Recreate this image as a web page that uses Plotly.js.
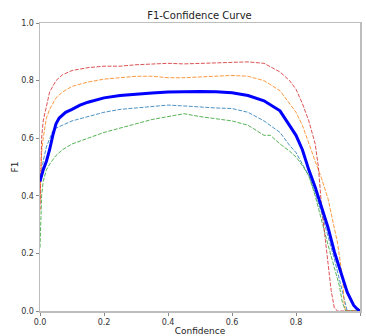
<!DOCTYPE html>
<html>
<head>
<meta charset="utf-8">
<script src="https://cdn.plot.ly/plotly-3.0.1.min.js"></script>
<style>html,body{margin:0;padding:0;background:#fff;}#chart{width:366px;height:336px;}</style>
</head>
<body>
<div id="chart"></div>
<script>
// Confidence / F1 data per class
const class0X = [0,0.01,0.02,0.03,0.04,0.05,0.07,0.1,0.15,0.2,0.25,0.3,0.35,0.4,0.45,0.5,0.55,0.6,0.65,0.7,0.75,0.78,0.8,0.82,0.84,0.86,0.88,0.9,0.92,0.94,0.95,0.96,1.0];
const class0Y = [0.45,0.52,0.57,0.60,0.625,0.635,0.645,0.66,0.675,0.69,0.70,0.705,0.71,0.715,0.712,0.708,0.705,0.703,0.69,0.66,0.62,0.575,0.55,0.51,0.47,0.41,0.34,0.26,0.18,0.09,0.04,0,0];

const class1X = [0,0.005,0.01,0.02,0.03,0.05,0.07,0.1,0.15,0.2,0.25,0.3,0.35,0.4,0.45,0.5,0.55,0.6,0.65,0.7,0.75,0.78,0.8,0.82,0.84,0.86,0.88,0.9,0.93,0.946,0.95,0.955,1.0];
const class1Y = [0.38,0.55,0.60,0.67,0.70,0.74,0.76,0.78,0.795,0.805,0.81,0.815,0.815,0.81,0.81,0.812,0.815,0.818,0.815,0.80,0.765,0.72,0.69,0.645,0.58,0.52,0.46,0.39,0.235,0.11,0.03,0,0];

const class2X = [0,0.005,0.01,0.02,0.03,0.05,0.07,0.1,0.15,0.2,0.25,0.3,0.35,0.4,0.45,0.5,0.55,0.6,0.65,0.7,0.72,0.75,0.78,0.8,0.82,0.84,0.86,0.88,0.9,0.92,0.935,0.945,0.955,1.0];
const class2Y = [0.22,0.40,0.45,0.49,0.51,0.54,0.56,0.58,0.60,0.62,0.635,0.65,0.665,0.675,0.685,0.675,0.668,0.66,0.645,0.61,0.61,0.58,0.555,0.535,0.505,0.47,0.40,0.31,0.23,0.15,0.09,0.03,0,0];

const class3X = [0,0.005,0.01,0.02,0.03,0.05,0.07,0.1,0.15,0.2,0.25,0.3,0.35,0.4,0.45,0.5,0.55,0.6,0.65,0.7,0.75,0.78,0.8,0.82,0.84,0.86,0.87,0.88,0.89,0.9,0.91,0.92,0.93,1.0];
const class3Y = [0.35,0.60,0.66,0.71,0.76,0.80,0.82,0.835,0.845,0.85,0.85,0.855,0.857,0.86,0.858,0.86,0.862,0.862,0.865,0.86,0.83,0.80,0.77,0.72,0.66,0.58,0.50,0.36,0.26,0.17,0.07,0.01,0,0];

const allX = [0,0.01,0.02,0.03,0.04,0.05,0.06,0.08,0.1,0.125,0.15,0.2,0.25,0.3,0.35,0.4,0.45,0.5,0.55,0.6,0.65,0.7,0.75,0.78,0.8,0.82,0.84,0.86,0.88,0.9,0.92,0.94,0.95,0.96,0.97,0.98,0.99,1.0];
const allY = [0.45,0.49,0.52,0.56,0.61,0.65,0.67,0.69,0.70,0.715,0.725,0.74,0.748,0.753,0.757,0.76,0.762,0.762,0.761,0.758,0.748,0.73,0.695,0.645,0.61,0.56,0.49,0.43,0.36,0.29,0.205,0.13,0.10,0.065,0.04,0.02,0.008,0];

const xTicks = [0,0.2,0.4,0.6,0.8,1.0];
const xTickText = ['0.0','0.2','0.4','0.6','0.8','1.0'];
const yTicks = [0,0.2,0.4,0.6,0.8,1.0];
const yTickText = ['0.0','0.2','0.4','0.6','0.8','1.0'];

const thin = {width: 1, dash: '4px,1.5px'};
const traces = [
  {x: class0X, y: class0Y, mode: 'lines', line: Object.assign({color: '#1f77b4'}, thin), opacity: 0.8},
  {x: class1X, y: class1Y, mode: 'lines', line: Object.assign({color: '#ff7f0e'}, thin), opacity: 0.8},
  {x: class2X, y: class2Y, mode: 'lines', line: Object.assign({color: '#2ca02c'}, thin), opacity: 0.8},
  {x: class3X, y: class3Y, mode: 'lines', line: Object.assign({color: '#d62728'}, thin), opacity: 0.8},
  {x: allX, y: allY, mode: 'lines', line: {color: '#0000ff', width: 3}}
];

const axisCommon = {
  range: [0, 1], showgrid: false, zeroline: false,
  showline: true, mirror: true, linecolor: '#bdbdbd', linewidth: 1.5,
  ticks: 'outside', ticklen: 3, tickcolor: '#888', tickwidth: 1,
  tickfont: {family: 'DejaVu Sans', size: 8, color: '#333'}
};

const layout = {
  width: 366, height: 336,
  margin: {l: 40, r: 6, t: 23, b: 25},
  paper_bgcolor: '#fff', plot_bgcolor: '#fff',
  showlegend: false,
  title: {text: 'F1-Confidence Curve', x: 0.545, xanchor: 'center', y: 0.955, yanchor: 'middle',
          font: {family: 'DejaVu Sans', size: 10, color: '#222'}},
  xaxis: Object.assign({}, axisCommon, {tickvals: xTicks, ticktext: xTickText,
          title: {text: 'Confidence', standoff: 6, font: {family: 'DejaVu Sans', size: 9, color: '#222'}}}),
  yaxis: Object.assign({}, axisCommon, {tickvals: yTicks, ticktext: yTickText,
          title: {text: 'F1', standoff: 1, font: {family: 'DejaVu Sans', size: 9, color: '#222'}}})
};

Plotly.newPlot('chart', traces, layout, {displayModeBar: false, staticPlot: true});
</script>
</body>
</html>
